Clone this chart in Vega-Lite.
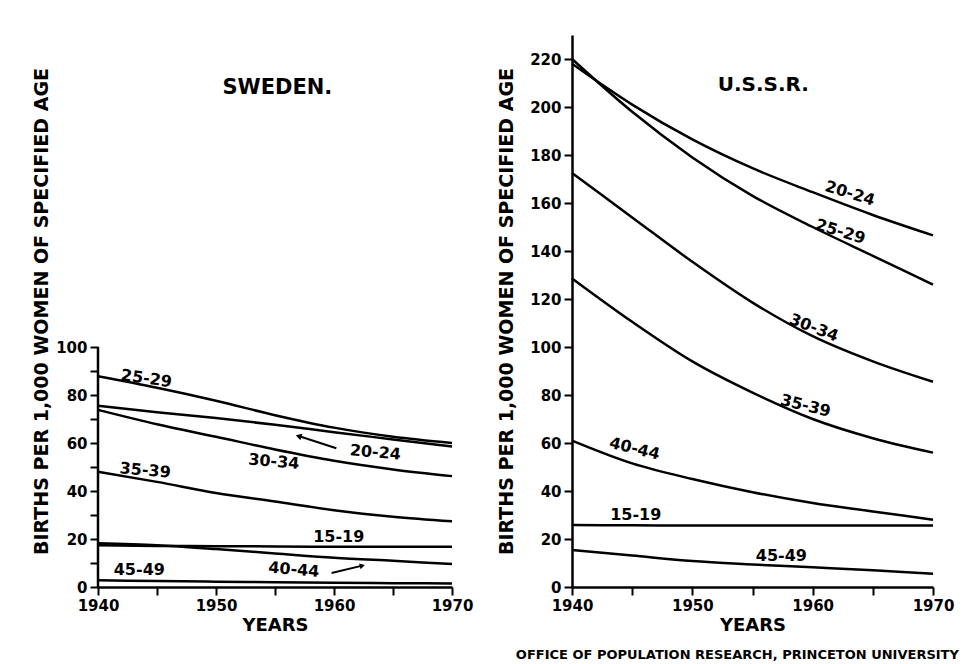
{
  "$schema": "https://vega.github.io/schema/vega-lite/v6.json",
  "background": "white",
  "padding": {"left": 32, "top": 35, "right": 15, "bottom": 0},
  "config": {
    "view": {"stroke": null},
    "font": "DejaVu Sans",
    "axis": {
      "grid": false,
      "domainColor": "black",
      "domainWidth": 2.5,
      "tickColor": "black",
      "tickWidth": 2,
      "tickSize": 8,
      "labelFont": "DejaVu Sans",
      "labelFontWeight": "bold",
      "labelFontSize": 15,
      "labelColor": "black",
      "labelPadding": 3,
      "labelFlush": false,
      "labelBound": false,
      "labelOverlap": false,
      "titleFont": "DejaVu Sans",
      "titleFontWeight": "bold",
      "titleColor": "black"
    }
  },
  "title": {
    "text": "OFFICE OF POPULATION RESEARCH, PRINCETON UNIVERSITY",
    "orient": "bottom",
    "anchor": "end",
    "font": "DejaVu Sans",
    "fontSize": 13,
    "fontWeight": "bold",
    "color": "black",
    "offset": 15,
    "dx": 5
  },
  "datasets": {
    "sweden": [
      {"age": "15-19", "year": 1940, "rate": 17.4}, {"age": "15-19", "year": 1945, "rate": 17.1}, {"age": "15-19", "year": 1950, "rate": 17.0}, {"age": "15-19", "year": 1955, "rate": 16.9}, {"age": "15-19", "year": 1960, "rate": 16.8}, {"age": "15-19", "year": 1965, "rate": 16.8}, {"age": "15-19", "year": 1970, "rate": 16.8},
      {"age": "20-24", "year": 1940, "rate": 75.5}, {"age": "20-24", "year": 1945, "rate": 72.8}, {"age": "20-24", "year": 1950, "rate": 70.4}, {"age": "20-24", "year": 1955, "rate": 67.6}, {"age": "20-24", "year": 1960, "rate": 64.5}, {"age": "20-24", "year": 1965, "rate": 61.5}, {"age": "20-24", "year": 1970, "rate": 58.5},
      {"age": "25-29", "year": 1940, "rate": 87.8}, {"age": "25-29", "year": 1945, "rate": 83.0}, {"age": "25-29", "year": 1950, "rate": 77.6}, {"age": "25-29", "year": 1955, "rate": 71.6}, {"age": "25-29", "year": 1960, "rate": 66.4}, {"age": "25-29", "year": 1965, "rate": 62.6}, {"age": "25-29", "year": 1970, "rate": 60.0},
      {"age": "30-34", "year": 1940, "rate": 73.8}, {"age": "30-34", "year": 1945, "rate": 67.8}, {"age": "30-34", "year": 1950, "rate": 62.6}, {"age": "30-34", "year": 1955, "rate": 57.3}, {"age": "30-34", "year": 1960, "rate": 52.6}, {"age": "30-34", "year": 1965, "rate": 49.0}, {"age": "30-34", "year": 1970, "rate": 46.2},
      {"age": "35-39", "year": 1940, "rate": 48.0}, {"age": "35-39", "year": 1945, "rate": 43.8}, {"age": "35-39", "year": 1950, "rate": 39.2}, {"age": "35-39", "year": 1955, "rate": 35.6}, {"age": "35-39", "year": 1960, "rate": 32.0}, {"age": "35-39", "year": 1965, "rate": 29.3}, {"age": "35-39", "year": 1970, "rate": 27.4},
      {"age": "40-44", "year": 1940, "rate": 18.2}, {"age": "40-44", "year": 1945, "rate": 17.4}, {"age": "40-44", "year": 1950, "rate": 15.8}, {"age": "40-44", "year": 1955, "rate": 14.0}, {"age": "40-44", "year": 1960, "rate": 12.2}, {"age": "40-44", "year": 1965, "rate": 10.9}, {"age": "40-44", "year": 1970, "rate": 9.6},
      {"age": "45-49", "year": 1940, "rate": 2.8}, {"age": "45-49", "year": 1945, "rate": 2.5}, {"age": "45-49", "year": 1950, "rate": 2.2}, {"age": "45-49", "year": 1955, "rate": 2.0}, {"age": "45-49", "year": 1960, "rate": 1.8}, {"age": "45-49", "year": 1965, "rate": 1.6}, {"age": "45-49", "year": 1970, "rate": 1.5}
    ],
    "ussr": [
      {"age": "15-19", "year": 1940, "rate": 25.8}, {"age": "15-19", "year": 1945, "rate": 25.7}, {"age": "15-19", "year": 1950, "rate": 25.6}, {"age": "15-19", "year": 1955, "rate": 25.6}, {"age": "15-19", "year": 1960, "rate": 25.6}, {"age": "15-19", "year": 1965, "rate": 25.6}, {"age": "15-19", "year": 1970, "rate": 25.6},
      {"age": "20-24", "year": 1940, "rate": 218}, {"age": "20-24", "year": 1945, "rate": 201}, {"age": "20-24", "year": 1950, "rate": 186.5}, {"age": "20-24", "year": 1955, "rate": 174.5}, {"age": "20-24", "year": 1960, "rate": 164.5}, {"age": "20-24", "year": 1965, "rate": 155}, {"age": "20-24", "year": 1970, "rate": 146.5},
      {"age": "25-29", "year": 1940, "rate": 220}, {"age": "25-29", "year": 1945, "rate": 198}, {"age": "25-29", "year": 1950, "rate": 179}, {"age": "25-29", "year": 1955, "rate": 163}, {"age": "25-29", "year": 1960, "rate": 150}, {"age": "25-29", "year": 1965, "rate": 138}, {"age": "25-29", "year": 1970, "rate": 126},
      {"age": "30-34", "year": 1940, "rate": 172.5}, {"age": "30-34", "year": 1945, "rate": 154}, {"age": "30-34", "year": 1950, "rate": 135.5}, {"age": "30-34", "year": 1955, "rate": 118.5}, {"age": "30-34", "year": 1960, "rate": 104.5}, {"age": "30-34", "year": 1965, "rate": 94}, {"age": "30-34", "year": 1970, "rate": 85.5},
      {"age": "35-39", "year": 1940, "rate": 128.6}, {"age": "35-39", "year": 1945, "rate": 110.5}, {"age": "35-39", "year": 1950, "rate": 94}, {"age": "35-39", "year": 1955, "rate": 81}, {"age": "35-39", "year": 1960, "rate": 70}, {"age": "35-39", "year": 1965, "rate": 62}, {"age": "35-39", "year": 1970, "rate": 56},
      {"age": "40-44", "year": 1940, "rate": 61}, {"age": "40-44", "year": 1945, "rate": 51.5}, {"age": "40-44", "year": 1950, "rate": 45}, {"age": "40-44", "year": 1955, "rate": 39.5}, {"age": "40-44", "year": 1960, "rate": 35}, {"age": "40-44", "year": 1965, "rate": 31.5}, {"age": "40-44", "year": 1970, "rate": 28},
      {"age": "45-49", "year": 1940, "rate": 15.4}, {"age": "45-49", "year": 1945, "rate": 13.1}, {"age": "45-49", "year": 1950, "rate": 10.8}, {"age": "45-49", "year": 1955, "rate": 9.4}, {"age": "45-49", "year": 1960, "rate": 8.2}, {"age": "45-49", "year": 1965, "rate": 7.0}, {"age": "45-49", "year": 1970, "rate": 5.5}
    ],
    "sweLabels": [
      {"label": "25-29", "year": 1944.1, "rate": 86.8},
      {"label": "20-24", "year": 1963.5, "rate": 56.0},
      {"label": "30-34", "year": 1954.9, "rate": 52.2},
      {"label": "35-39", "year": 1944.0, "rate": 48.5},
      {"label": "15-19", "year": 1960.4, "rate": 21.0},
      {"label": "40-44", "year": 1956.6, "rate": 7.2},
      {"label": "45-49", "year": 1943.5, "rate": 7.2}
    ],
    "ussrLabels": [
      {"label": "20-24", "year": 1963.1, "rate": 164},
      {"label": "25-29", "year": 1962.3, "rate": 148},
      {"label": "30-34", "year": 1960.1, "rate": 108},
      {"label": "35-39", "year": 1959.4, "rate": 75.5},
      {"label": "40-44", "year": 1945.2, "rate": 57.6},
      {"label": "15-19", "year": 1945.3, "rate": 29.9},
      {"label": "45-49", "year": 1957.4, "rate": 13.1}
    ],
    "arrows": [
      {"label": "20-24", "year": 1960.2, "rate": 57.8, "year2": 1957.0, "rate2": 62.9},
      {"label": "40-44", "year": 1959.8, "rate": 5.8, "year2": 1962.4, "rate2": 8.9}
    ]
  },
  "spacing": 24,
  "hconcat": [
    {
      "width": 354,
      "height": 552,
      "layer": [
        {
          "data": {"name": "sweden"},
          "mark": {"type": "line", "color": "black", "strokeWidth": 2.5, "interpolate": "monotone"},
          "encoding": {
            "x": {"field": "year", "type": "quantitative", "scale": {"domain": [1940, 1970], "nice": false},
              "axis": {"values": [1940, 1945, 1950, 1955, 1960, 1965, 1970], "format": "d", "labelExpr": "datum.value % 10 == 0 ? datum.label : ''", "title": "YEARS", "titleFontSize": 18, "titlePadding": 3}},
            "y": {"field": "rate", "type": "quantitative", "scale": {"domain": [0, 230], "nice": false},
              "axis": {"values": [0, 10, 20, 30, 40, 50, 60, 70, 80, 90, 100], "domain": false, "labelExpr": "datum.value % 20 == 0 ? datum.label : ''", "title": "BIRTHS PER 1,000 WOMEN OF SPECIFIED AGE", "titleFontSize": 19, "titlePadding": 4}},
            "detail": {"field": "age", "type": "nominal"}
          }
        },
        {
          "data": {"values": [{"year": 1940, "rate": 0, "rate2": 100}]},
          "mark": {"type": "rule", "color": "black", "strokeWidth": 2.5},
          "encoding": {
            "x": {"field": "year", "type": "quantitative"},
            "y": {"field": "rate", "type": "quantitative"},
            "y2": {"field": "rate2"}
          }
        },
        {
          "data": {"values": [{"label": "SWEDEN.", "year": 1955.2, "rate": 208}]},
          "mark": {"type": "text", "fontSize": 21, "fontWeight": "bold", "color": "black", "baseline": "middle"},
          "encoding": {
            "x": {"field": "year", "type": "quantitative"},
            "y": {"field": "rate", "type": "quantitative"},
            "text": {"field": "label"}
          }
        },
        {
          "data": {"name": "sweLabels"},
          "transform": [{"filter": {"field": "label", "oneOf": ["15-19", "45-49"]}}],
          "mark": {"type": "text", "fontSize": 16, "fontWeight": "bold", "color": "black", "baseline": "middle", "angle": 0},
          "encoding": {"x": {"field": "year", "type": "quantitative"}, "y": {"field": "rate", "type": "quantitative"}, "text": {"field": "label"}}
        },
        {
          "data": {"name": "sweLabels"},
          "transform": [{"filter": {"field": "label", "oneOf": ["20-24", "30-34", "35-39", "40-44"]}}],
          "mark": {"type": "text", "fontSize": 16, "fontWeight": "bold", "color": "black", "baseline": "middle", "angle": 5},
          "encoding": {"x": {"field": "year", "type": "quantitative"}, "y": {"field": "rate", "type": "quantitative"}, "text": {"field": "label"}}
        },
        {
          "data": {"name": "sweLabels"},
          "transform": [{"filter": {"field": "label", "oneOf": ["25-29"]}}],
          "mark": {"type": "text", "fontSize": 16, "fontWeight": "bold", "color": "black", "baseline": "middle", "angle": 8},
          "encoding": {"x": {"field": "year", "type": "quantitative"}, "y": {"field": "rate", "type": "quantitative"}, "text": {"field": "label"}}
        },
        {
          "data": {"name": "arrows"},
          "mark": {"type": "rule", "color": "black", "strokeWidth": 2},
          "encoding": {
            "x": {"field": "year", "type": "quantitative"},
            "y": {"field": "rate", "type": "quantitative"},
            "x2": {"field": "year2"},
            "y2": {"field": "rate2"}
          }
        },
        {
          "data": {"name": "arrows"},
          "transform": [{"filter": {"field": "label", "equal": "20-24"}}],
          "mark": {"type": "point", "shape": "triangle-up", "filled": true, "color": "black", "size": 45, "angle": 288, "opacity": 1},
          "encoding": {"x": {"field": "year2", "type": "quantitative"}, "y": {"field": "rate2", "type": "quantitative"}}
        },
        {
          "data": {"name": "arrows"},
          "transform": [{"filter": {"field": "label", "equal": "40-44"}}],
          "mark": {"type": "point", "shape": "triangle-up", "filled": true, "color": "black", "size": 35, "angle": 76, "opacity": 1},
          "encoding": {"x": {"field": "year2", "type": "quantitative"}, "y": {"field": "rate2", "type": "quantitative"}}
        }
      ]
    },
    {
      "width": 361,
      "height": 552,
      "layer": [
        {
          "data": {"name": "ussr"},
          "mark": {"type": "line", "color": "black", "strokeWidth": 2.5, "interpolate": "monotone"},
          "encoding": {
            "x": {"field": "year", "type": "quantitative", "scale": {"domain": [1940, 1970], "nice": false},
              "axis": {"values": [1940, 1945, 1950, 1955, 1960, 1965, 1970], "format": "d", "labelExpr": "datum.value % 10 == 0 ? datum.label : ''", "title": "YEARS", "titleFontSize": 18, "titlePadding": 3}},
            "y": {"field": "rate", "type": "quantitative", "scale": {"domain": [0, 230], "nice": false},
              "axis": {"values": [0, 10, 20, 30, 40, 50, 60, 70, 80, 90, 100, 110, 120, 130, 140, 150, 160, 170, 180, 190, 200, 210, 220], "labelExpr": "datum.value % 20 == 0 ? datum.label : ''", "title": "BIRTHS PER 1,000 WOMEN OF SPECIFIED AGE", "titleFontSize": 19, "titlePadding": 13}},
            "detail": {"field": "age", "type": "nominal"}
          }
        },
        {
          "data": {"values": [{"label": "U.S.S.R.", "year": 1955.9, "rate": 209}]},
          "mark": {"type": "text", "fontSize": 20, "fontWeight": "bold", "color": "black", "baseline": "middle"},
          "encoding": {
            "x": {"field": "year", "type": "quantitative"},
            "y": {"field": "rate", "type": "quantitative"},
            "text": {"field": "label"}
          }
        },
        {
          "data": {"name": "ussrLabels"},
          "transform": [{"filter": {"field": "label", "oneOf": ["15-19", "45-49"]}}],
          "mark": {"type": "text", "fontSize": 16, "fontWeight": "bold", "color": "black", "baseline": "middle", "angle": 0},
          "encoding": {"x": {"field": "year", "type": "quantitative"}, "y": {"field": "rate", "type": "quantitative"}, "text": {"field": "label"}}
        },
        {
          "data": {"name": "ussrLabels"},
          "transform": [{"filter": {"field": "label", "oneOf": ["20-24", "25-29"]}}],
          "mark": {"type": "text", "fontSize": 16, "fontWeight": "bold", "color": "black", "baseline": "middle", "angle": 17},
          "encoding": {"x": {"field": "year", "type": "quantitative"}, "y": {"field": "rate", "type": "quantitative"}, "text": {"field": "label"}}
        },
        {
          "data": {"name": "ussrLabels"},
          "transform": [{"filter": {"field": "label", "oneOf": ["30-34"]}}],
          "mark": {"type": "text", "fontSize": 16, "fontWeight": "bold", "color": "black", "baseline": "middle", "angle": 21},
          "encoding": {"x": {"field": "year", "type": "quantitative"}, "y": {"field": "rate", "type": "quantitative"}, "text": {"field": "label"}}
        },
        {
          "data": {"name": "ussrLabels"},
          "transform": [{"filter": {"field": "label", "oneOf": ["35-39", "40-44"]}}],
          "mark": {"type": "text", "fontSize": 16, "fontWeight": "bold", "color": "black", "baseline": "middle", "angle": 14},
          "encoding": {"x": {"field": "year", "type": "quantitative"}, "y": {"field": "rate", "type": "quantitative"}, "text": {"field": "label"}}
        }
      ]
    }
  ]
}
